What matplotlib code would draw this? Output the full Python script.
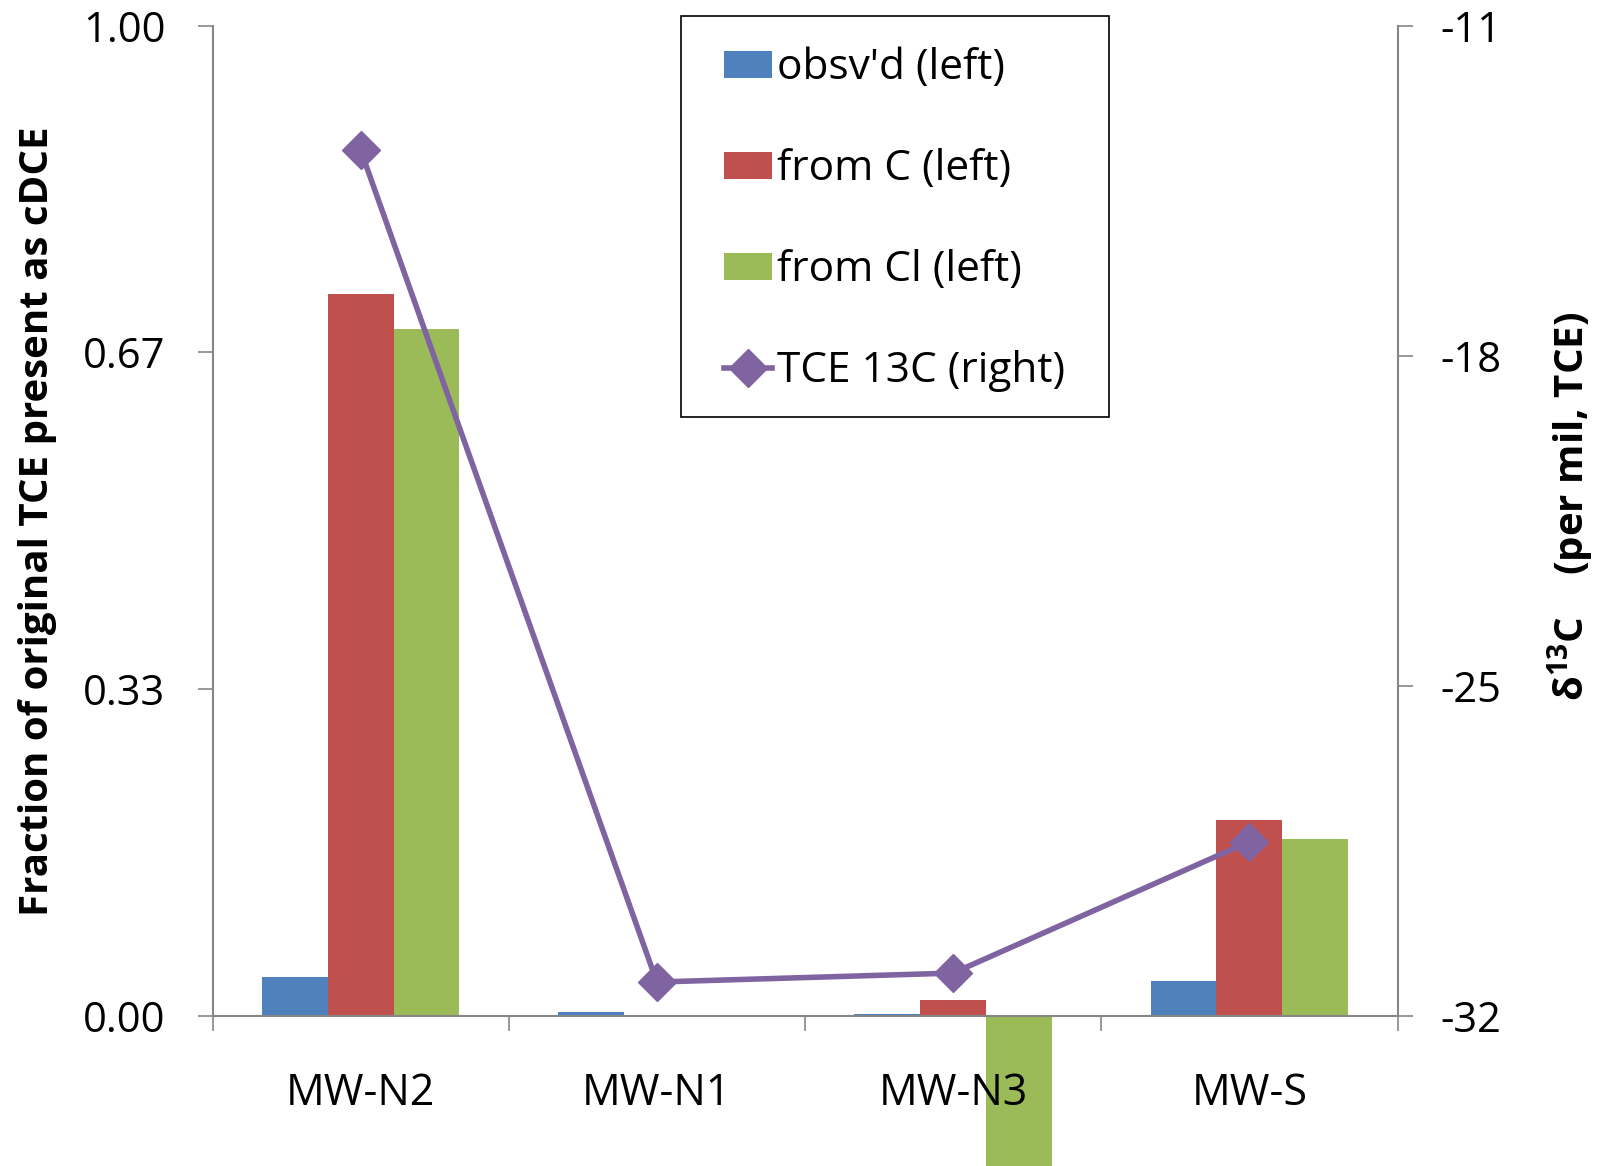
import numpy as np
import matplotlib
matplotlib.use("Agg")
import matplotlib.pyplot as plt
from matplotlib.patches import Rectangle

# wells and series
wells = ["MW-N2", "MW-N1", "MW-N3", "MW-S"]
obsvd = [0.039, 0.004, 0.002, 0.035]
from_c = [0.729, 0.0, 0.016, 0.198]
from_cl = [0.694, 0.0, -0.20, 0.178]
tce_13c = [-13.64, -31.29, -31.1, -28.31]

left_ticks = [0.0, 0.33, 0.67, 1.0]
right_ticks = [-32, -25, -18, -11]

BLUE, RED, GREEN, PURPLE = "#4F81BD", "#C0504D", "#9BBB59", "#8064A2"
AXCOL = "#868686"
FONT = "Open Sans"

plt.rcParams["font.family"] = [FONT, "DejaVu Sans"]
plt.rcParams["axes.unicode_minus"] = False
plt.rcParams["mathtext.fontset"] = "custom"
plt.rcParams["mathtext.rm"] = FONT
plt.rcParams["mathtext.bf"] = FONT + ":bold"

W, H = 1610, 1166
fig = plt.figure(figsize=(W / 100, H / 100), dpi=100)
ax = fig.add_axes([212.5 / W, 1 - 1015.5 / H, 1185 / W, 989.8 / H])

x = np.arange(len(wells))
w = 0.222
b1 = ax.bar(x - w, obsvd, w, color=BLUE, label="obsv'd (left)")
b2 = ax.bar(x, from_c, w, color=RED, label="from C (left)")
b3 = ax.bar(x + w, from_cl, w, color=GREEN, label="from Cl (left)")
for bars in (b1, b2, b3):
    for p in bars:
        p.set_clip_on(False)

ax.set_xlim(-0.5, len(wells) - 0.5)
ax.set_ylim(0, 1)
ax.set_yticks(left_ticks)
ax.set_yticklabels([f"{v:.2f}" for v in left_ticks])

# category boundaries as ticks, names on minor ticks
ax.set_xticks(np.arange(-0.5, len(wells), 1.0))
ax.set_xticklabels([])
ax.set_xticks(x, minor=True)
ax.set_xticklabels(wells, minor=True)
ax.tick_params(axis="x", which="major", length=11, width=1.2, color=AXCOL, direction="out")
ax.tick_params(axis="x", which="minor", length=0, pad=40, labelsize=31)
ax.tick_params(axis="y", length=11, width=1.2, color=AXCOL, pad=23, labelsize=30)

for s in ("top", "right"):
    ax.spines[s].set_visible(False)
for s in ("left", "bottom"):
    ax.spines[s].set_color(AXCOL)
    ax.spines[s].set_linewidth(1.5)

ax2 = ax.twinx()
ln, = ax2.plot(x, tce_13c, color=PURPLE, lw=4, marker="D", ms=19,
               label="TCE 13C (right)", clip_on=False)
ax2.set_ylim(-32, -11)
ax2.set_yticks(right_ticks)
ax2.tick_params(axis="y", length=11, width=1.2, color=AXCOL, pad=20, labelsize=30)
for s in ("top", "left", "bottom"):
    ax2.spines[s].set_visible(False)
ax2.spines["right"].set_color(AXCOL)
ax2.spines["right"].set_linewidth(1.5)

fig.text(0.023, 0.553, "Fraction of original TCE present as cDCE",
         rotation=90, ha="center", va="center", fontsize=29, fontweight="bold")
fig.text(0.9758, 0.566, r"δ$^{\mathbf{13}}$C    (per mil, TCE)",
         rotation=90, ha="center", va="center", fontsize=29, fontweight="bold")

# legend box
fig.patches.append(Rectangle((681 / W, 1 - 416.7 / H), 428 / W, 401 / H,
                             transform=fig.transFigure, fill=False,
                             edgecolor="black", linewidth=1.2, zorder=5))
leg = fig.legend(handles=[b1, b2, b3, ln], loc="upper left",
                 bbox_to_anchor=(724 / W, 1 - 47.5 / H), fontsize=30.5,
                 frameon=False, borderpad=0, labelspacing=1.39,
                 handlelength=1.13, handleheight=0.62, handletextpad=0.12,
                 borderaxespad=0)

fig.savefig("out.png", dpi=100)
